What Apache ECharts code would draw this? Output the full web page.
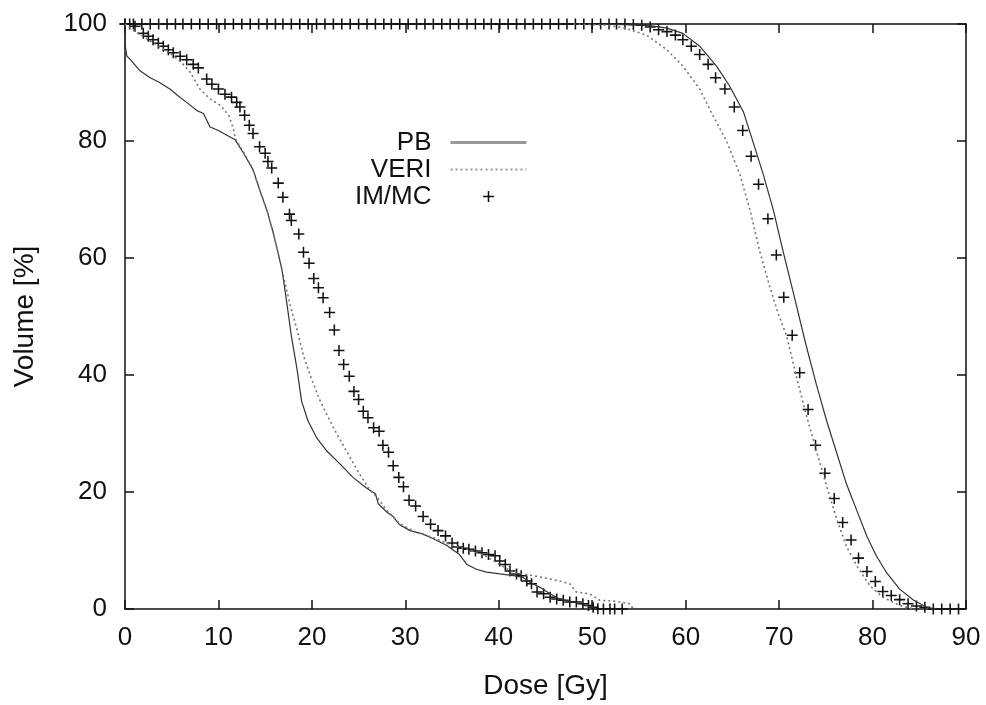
<!DOCTYPE html>
<html>
<head>
<meta charset="utf-8">
<script src="https://cdn.jsdelivr.net/npm/echarts@6/dist/echarts.min.js"></script>
<style>
html,body{margin:0;padding:0;background:#fff;}
#chart{width:986px;height:705px;}
</style>
</head>
<body>
<div id="chart"></div>
<script>
// ---- Data (Dose [Gy], Volume [%]) ----
const seriesNames = ['PB', 'VERI', 'IM/MC'];
const xTicks = [0, 10, 20, 30, 40, 50, 60, 70, 80, 90];
const yTicks = [0, 20, 40, 60, 80, 100];

// Organ-at-risk curves (left)
const pbOAR = [[0,100],[0.05,96],[0.2,94.5],[0.7,93.7],[1.6,92.0],[2.7,90.8],[3.7,90.0],[4.8,88.9],[5.7,87.7],[6.6,86.6],[7.7,85.2],[8.4,84.7],[9.1,82.4],[10.0,81.8],[10.9,81.0],[11.8,80.2],[12.8,77.6],[13.7,75.1],[14.4,71.7],[15.2,68.1],[15.9,64.1],[16.8,58.0],[17.3,52.5],[17.8,46.7],[18.4,41.1],[18.9,35.5],[19.6,32.1],[20.5,29.3],[21.6,27.0],[23.0,24.8],[24.4,22.5],[25.9,20.6],[26.8,19.7],[27.1,18.0],[28.0,16.6],[28.7,15.8],[29.4,14.4],[30.5,13.4],[31.9,12.8],[33.0,12.0],[34.4,10.9],[35.8,9.3],[36.6,7.6],[37.6,6.8],[38.7,6.3],[40.1,6.0],[41.6,5.7],[42.6,5.4],[43.3,4.6],[44.4,3.7],[45.5,2.6],[46.5,1.7],[48.0,1.2],[49.4,0.6],[50.5,0]];

const veriOAR = [[0,100],[1,98.8],[2,97.8],[3,96.8],[4,95.8],[5,94.8],[6,93.5],[7.0,91.7],[8.0,88.9],[9.1,87.2],[10.2,86.1],[11.1,84.4],[11.6,82.1],[11.8,80.4],[12.8,77.8],[13.7,75.1],[14.4,71.7],[15.2,68.1],[15.9,64.1],[16.8,58.0],[17.7,51.8],[18.4,47.8],[19.1,43.3],[19.8,40.0],[20.9,35.5],[22.3,31.0],[23.7,27.0],[25.1,23.1],[26.2,20.3],[26.9,19.2],[28.0,16.9],[29.4,14.6],[30.9,13.3],[33.0,12.2],[34.8,11.0],[36.6,10.2],[38.3,9.3],[40.1,7.6],[41.6,6.2],[43.7,5.7],[46.5,4.8],[47.6,4.3],[48.3,2.9],[49.7,2.6],[50.8,1.5],[52.6,1.3],[54.0,0.9],[54.4,0]];

const immcOAR = [[0,100],[0.5,100],[1.07,99.6],[1.96,98.4],[2.5,97.9],[3.0,97.3],[3.57,96.7],[4.1,96.2],[4.64,95.6],[5.17,95.1],[5.9,94.5],[6.6,93.9],[7.3,93.1],[7.85,92.5],[8.74,90.6],[9.3,89.7],[10.0,88.9],[10.7,88.0],[11.4,87.5],[11.95,86.6],[12.3,85.8],[12.8,84.4],[13.3,82.7],[13.7,81.3],[14.4,79.0],[15.0,77.9],[15.3,76.5],[15.7,75.4],[16.4,72.8],[16.9,70.4],[17.6,67.5],[17.8,66.4],[18.6,64.1],[19.1,61.0],[19.7,59.1],[20.2,56.5],[20.7,54.9],[21.2,53.2],[21.9,50.7],[22.4,47.7],[22.9,44.2],[23.4,41.8],[24.0,39.8],[24.5,37.2],[25.0,35.8],[25.5,33.8],[26.0,32.7],[26.6,31.0],[27.2,30.4],[27.6,28.0],[28.2,26.8],[28.7,24.5],[29.3,22.5],[29.8,20.9],[30.4,18.6],[31.1,17.6],[31.9,15.8],[32.7,14.5],[33.5,13.4],[34.3,12.5],[35.0,11.3],[35.6,10.6],[36.2,10.4],[36.8,10.2],[37.5,9.9],[38.2,9.6],[38.9,9.3],[39.6,9.1],[40.1,8.2],[40.7,7.6],[41.2,6.5],[41.9,6.0],[42.4,5.7],[43.0,4.8],[43.5,4.3],[44.1,2.9],[44.8,2.6],[45.5,2.0],[46.2,1.7],[46.9,1.5],[47.6,1.2],[48.3,1.2],[49.0,0.9],[49.6,0.6],[50.1,0.3],[50.6,0.05],[51.2,0],[51.9,0],[52.4,0],[53.2,0]];

// Target curves (right)
const pbTGT = [[50,100],[55.8,99.8],[58.0,99.3],[59.7,98.4],[61.5,96.2],[63.3,92.8],[64.7,89.4],[66.2,84.9],[67.2,79.9],[68.3,74.3],[69.4,68.1],[70.4,61.3],[71.5,54.2],[72.9,45.0],[74.0,38.3],[75.1,32.1],[76.2,26.5],[77.2,21.4],[78.3,16.9],[79.4,12.4],[80.4,9.1],[81.5,6.2],[82.9,3.4],[84.4,1.5],[85.8,0.3],[86.9,0]];

const veriTGT = [[48,100],[51.5,99.8],[53.5,99.3],[55.8,98.1],[58.0,95.6],[59.7,92.8],[61.5,88.9],[62.9,84.4],[64.4,79.9],[65.8,74.3],[66.9,68.1],[67.9,61.3],[69.0,55.1],[69.9,50.5],[70.8,46.7],[71.9,39.4],[72.9,33.2],[74.0,27.0],[75.1,20.9],[76.2,15.2],[77.2,10.7],[78.3,7.4],[79.7,4.0],[81.1,2.0],[82.9,0.6],[84.4,0]];

const immcTGT = [[0,100],[0.9,100],[1.8,100],[2.7,100],[3.6,100],[4.5,100],[5.4,100],[6.2,100],[7.1,100],[8.0,100],[8.9,100],[9.8,100],[10.7,100],[11.6,100],[12.5,100],[13.4,100],[14.3,100],[15.2,100],[16.1,100],[16.9,100],[17.8,100],[18.7,100],[19.6,100],[20.5,100],[21.4,100],[22.3,100],[23.2,100],[24.1,100],[25.0,100],[25.9,100],[26.8,100],[27.7,100],[28.5,100],[29.4,100],[30.3,100],[31.2,100],[32.1,100],[33.0,100],[33.9,100],[34.8,100],[35.7,100],[36.6,100],[37.5,100],[38.4,100],[39.2,100],[40.1,100],[41.0,100],[41.9,100],[42.8,100],[43.7,100],[44.6,100],[45.5,100],[46.4,100],[47.3,100],[48.2,100],[49.1,100],[50.0,100],[50.9,100],[51.8,100],[52.6,100],[53.5,100],[54.4,99.9],[55.3,99.8],[56.2,99.5],[57.1,99.0],[58.0,98.7],[58.9,98.1],[59.7,97.3],[60.6,96.2],[61.5,94.8],[62.4,93.1],[63.2,90.8],[64.2,88.9],[65.2,85.8],[66.1,81.8],[67.0,77.4],[67.8,72.6],[68.8,66.7],[69.7,60.5],[70.5,53.3],[71.4,46.8],[72.2,40.4],[73.1,34.1],[73.9,28.0],[74.9,23.2],[75.9,18.9],[76.8,14.8],[77.7,11.8],[78.5,8.7],[79.4,6.4],[80.3,4.7],[81.1,3.0],[82.0,2.3],[82.9,1.6],[83.8,0.9],[84.7,0.5],[85.6,0.3],[86.5,0],[87.4,0],[88.3,0],[89.2,0]];

// ---- Chart ----
const FONT = '"Liberation Sans", Arial, Helvetica, sans-serif';
const plus = 'path://M4.3,0H5.7V4.3H10V5.7H5.7V10H4.3V5.7H0V4.3H4.3Z';
const axisLineStyle = {color:'#111', width:1.5};

const chart = echarts.init(document.getElementById('chart'), null, {renderer:'canvas'});

function xAx(pos, showLabel){
  return {
    type:'value', position:pos, min:xTicks[0], max:xTicks[xTicks.length-1], interval:10,
    name: showLabel ? 'Dose [Gy]' : '', nameLocation:'middle', nameGap:63,
    nameTextStyle:{fontFamily:FONT, fontSize:28, color:'#111'},
    axisLine:{show:true, onZero:false, lineStyle:axisLineStyle},
    axisTick:{show:true, inside:true, length:9, lineStyle:{color:'#111', width:1.5}},
    axisLabel:{show:showLabel, margin:16, fontFamily:FONT, fontSize:26, color:'#111'},
    splitLine:{show:false}
  };
}
function yAx(pos, showLabel){
  return {
    type:'value', position:pos, min:yTicks[0], max:yTicks[yTicks.length-1], interval:20,
    name: showLabel ? 'Volume [%]' : '', nameLocation:'middle', nameGap:86,
    nameTextStyle:{fontFamily:FONT, fontSize:28, color:'#111'},
    axisLine:{show:true, onZero:false, lineStyle:axisLineStyle},
    axisTick:{show:true, inside:true, length:9, lineStyle:{color:'#111', width:1.5}},
    axisLabel:{show:showLabel, margin:18, fontFamily:FONT, fontSize:26, color:'#111'},
    splitLine:{show:false}
  };
}

const pbStyle = {color:'#333', width:1.2, type:'solid'};
const veriStyle = {color:'#777', width:1.6, type:[2,3]};
const hidden = {color:'rgba(0,0,0,0)', borderWidth:0};

const option = {
  backgroundColor:'#fff',
  animation:false,
  grid:{left:125, right:20, top:24, bottom:88, containLabel:false},
  xAxis:[xAx('bottom', true), xAx('top', false)],
  yAxis:[yAx('left', true), yAx('right', false)],
  legend:{
    orient:'vertical', align:'right', right:458, top:129, padding:0,
    itemWidth:76, itemHeight:11, itemGap:0,
    textStyle:{fontFamily:FONT, fontSize:26, lineHeight:27, color:'#111', padding:[0,14,0,0]},
    data:[
      {name:seriesNames[0], itemStyle:hidden, lineStyle:{color:'#999', width:3, type:'solid'}},
      {name:seriesNames[1], itemStyle:hidden, lineStyle:{color:'#999', width:2, type:[2,3]}},
      {name:seriesNames[2], itemStyle:{color:'#111'}}
    ]
  },
  series:[
    {name:seriesNames[0], type:'line', data:pbOAR, showSymbol:false, symbol:'circle', symbolSize:0, lineStyle:pbStyle, itemStyle:{color:'#999'}},
    {name:seriesNames[0], type:'line', data:pbTGT, showSymbol:false, symbol:'circle', symbolSize:0, lineStyle:pbStyle, itemStyle:{color:'#999'}},
    {name:seriesNames[1], type:'line', data:veriOAR, showSymbol:false, symbol:'circle', symbolSize:0, lineStyle:veriStyle, itemStyle:{color:'#999'}},
    {name:seriesNames[1], type:'line', data:veriTGT, showSymbol:false, symbol:'circle', symbolSize:0, lineStyle:veriStyle, itemStyle:{color:'#999'}},
    {name:seriesNames[2], type:'scatter', data:immcOAR, symbol:plus, symbolSize:11, itemStyle:{color:'#111', opacity:1}},
    {name:seriesNames[2], type:'scatter', data:immcTGT, symbol:plus, symbolSize:11, itemStyle:{color:'#111', opacity:1}}
  ]
};
chart.setOption(option);
</script>
</body>
</html>
